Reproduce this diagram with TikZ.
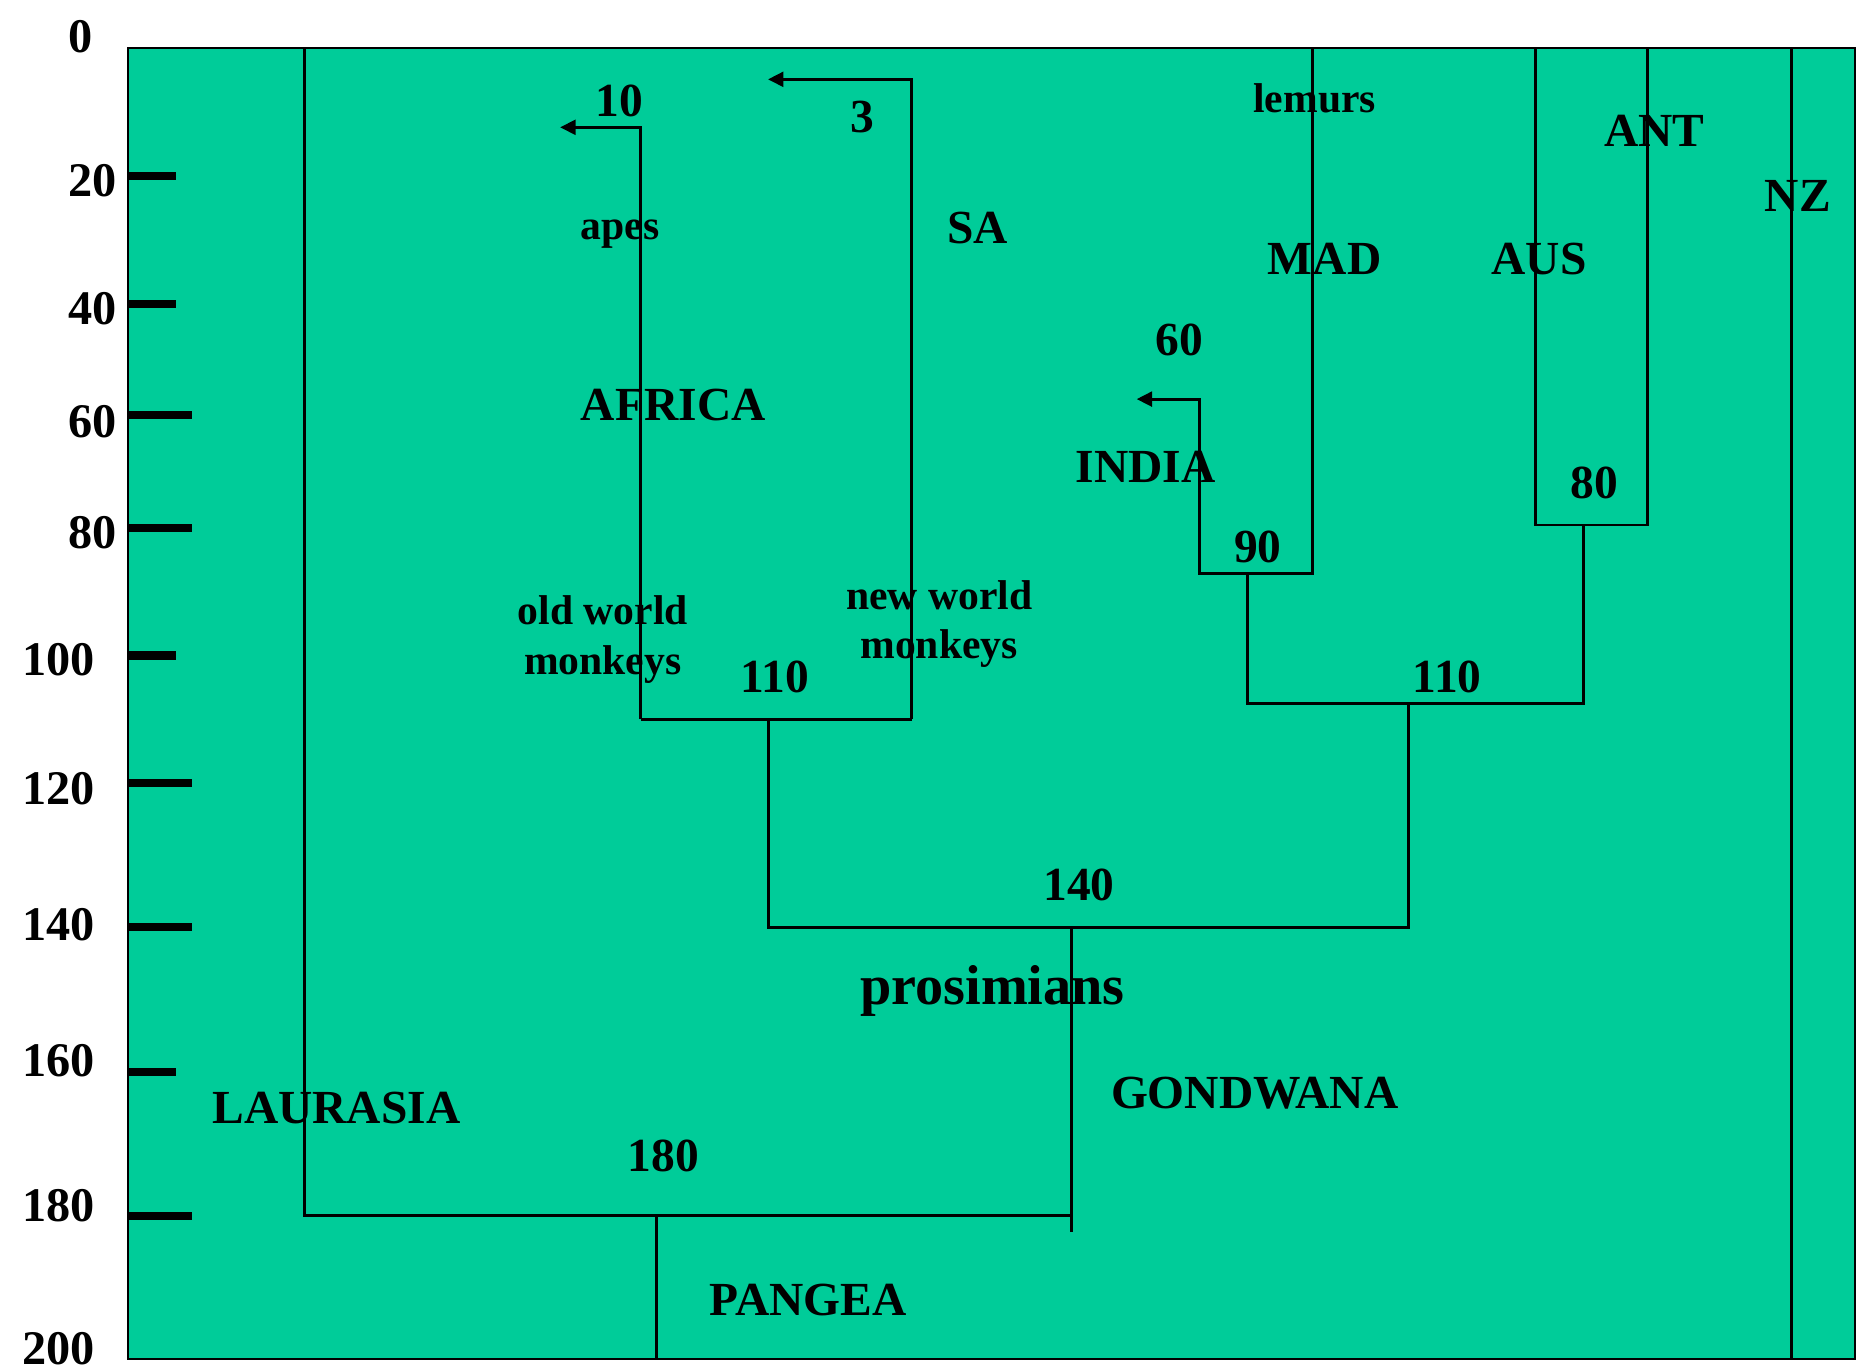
\documentclass[tikz,border=0pt]{standalone}
\usepackage{fontspec}
\setmainfont{Liberation Serif}
\usetikzlibrary{arrows.meta}
\definecolor{gondgreen}{RGB}{0,204,153}

\begin{document}
\begin{tikzpicture}[
  x=0.01cm, y=-0.01cm,
  >={Triangle[length=0.13cm, width=0.125cm]},
  branch/.style={line width=0.025cm, line cap=butt},
  tickmark/.style={line width=0.068cm},
  axlab/.style={font=\fontsize{11.6}{13}\selectfont\bfseries, inner sep=0pt, anchor=base west},
  big/.style={font=\fontsize{11.4}{13}\selectfont\bfseries, inner sep=0pt, anchor=base},
  small/.style={font=\fontsize{10}{11.95}\selectfont\bfseries, inner sep=0pt, align=center}]
  \useasboundingbox (0,0) rectangle (1568,1152);
  % background map
  \filldraw[fill=gondgreen, draw=black, line width=0.02cm] (108,40.3) rectangle (1566.4,1147.5);
  % time axis
  \foreach \t/\yy/\len in {20/148.6/148.6, 40/256.5/148.6, 60/350.8/161.9, 80/445.7/161.9,
      100/553.5/148.6, 120/661/161.9, 140/783/161.9, 160/905/148.6, 180/1026.5/161.9}
    \draw[tickmark] (108,\yy) -- (\len,\yy);
  \foreach \t/\xx/\yy in {0/57/44, 20/57/166, 40/57/274, 60/57/369, 80/57/463,
      100/18/570, 120/18/679, 140/18/794, 160/18/909, 180/18/1031, 200/18/1152}
    \node[axlab] (ax\t) at (\xx,\yy) {\t};
  % splits
  \draw[branch] (257,40.3) -- (257,1026.5) -- (905,1026.5);
  \draw[branch] (554.4,1026.5) -- (554.4,1147.5);
  \draw[branch] (905,783) -- (905,1040);
  \draw[branch] (648.8,607.4) -- (648.8,783) -- (1189,783) -- (1189,594);
  \draw[branch, ->] (770,607.4) -- (770,67) -- (648.5,67);
  \draw[branch, ->] (541,607.4) -- (541,107.5) -- (473,107.5);
  \draw[branch] (541,607.4) -- (770,607.4);
  \draw[branch] (1053.6,484) -- (1053.6,594) -- (1337,594) -- (1337,443.3);
  \draw[branch, ->] (1108,40.3) -- (1108,484) -- (1013,484) -- (1013,337) -- (959.8,337);
  \draw[branch] (1296.6,40.3) -- (1296.6,443.3) -- (1390.8,443.3) -- (1390.8,40.3);
  \draw[branch] (1512.7,40.3) -- (1512.7,1147.5);
  % labels
  \node[big] (t10) at (523,98) {10};
  \node[big] (t3) at (728,112) {3};
  \node[small, anchor=base] (apes) at (523.5,202) {apes};
  \node[big] (sa) at (825.5,206) {SA};
  \node[big] (africa) at (568.5,355) {AFRICA};
  \node[small, anchor=base] (lemurs) at (1110,95) {lemurs};
  \node[big] (ant) at (1397,124) {ANT};
  \node[big] (nz) at (1518,178.5) {NZ};
  \node[big] (mad) at (1118.5,232) {MAD};
  \node[big] (aus) at (1299.5,232) {AUS};
  \node[big] (t60) at (996,300) {60};
  \node[big] (india) at (967.5,407) {INDIA};
  \node[big] (t80) at (1346,421) {80};
  \node[big] (t90) at (1062,475) {90};
  \node[small] (oldw) at (509,540) {old world\\monkeys};
  \node[small] (neww) at (793,527) {new world\\monkeys};
  \node[big] (t110a) at (654.5,585) {110};
  \node[big] (t110b) at (1222,585) {110};
  \node[big] (t140) at (911,760) {140};
  \node[font=\fontsize{13.5}{15}\selectfont\bfseries, inner sep=0pt, anchor=base] (prosim) at (838,848) {prosimians};
  \node[big] (gond) at (1059.5,936) {GONDWANA};
  \node[big] (laur) at (284,949) {LAURASIA};
  \node[big] (t180) at (560,989) {180};
  \node[big] (pangea) at (682.5,1111) {PANGEA};
\end{tikzpicture}
\end{document}
